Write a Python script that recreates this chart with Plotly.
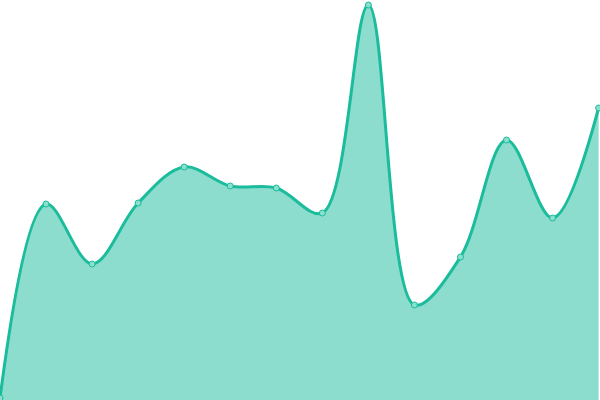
import plotly.graph_objects as go

categories = list(range(14))
values = [2, 196, 136, 197, 233, 214, 212, 187, 395, 95, 143, 260, 182, 292]

fig = go.Figure()
fig.add_trace(go.Scatter(
    x=categories, y=values,
    mode="lines+markers",
    line=dict(color="#1abc9c", width=3, shape="spline", smoothing=1),
    fill="tozeroy",
    fillcolor="rgba(26,188,156,0.5)",
    marker=dict(size=6, color="#8ae0ce", line=dict(color="#1abc9c", width=1)),
    cliponaxis=False,
    hoverinfo="skip",
))
fig.update_layout(
    width=600, height=400,
    margin=dict(l=0, r=0, t=0, b=0),
    paper_bgcolor="white", plot_bgcolor="white",
    showlegend=False,
    xaxis=dict(visible=False, range=[0, 13.03]),
    yaxis=dict(visible=False, range=[0, 400]),
)
fig.write_html(
    "out.html",
    config={"displayModeBar": False},
    post_script="document.body.style.margin='0';document.body.style.overflow='hidden';",
)
